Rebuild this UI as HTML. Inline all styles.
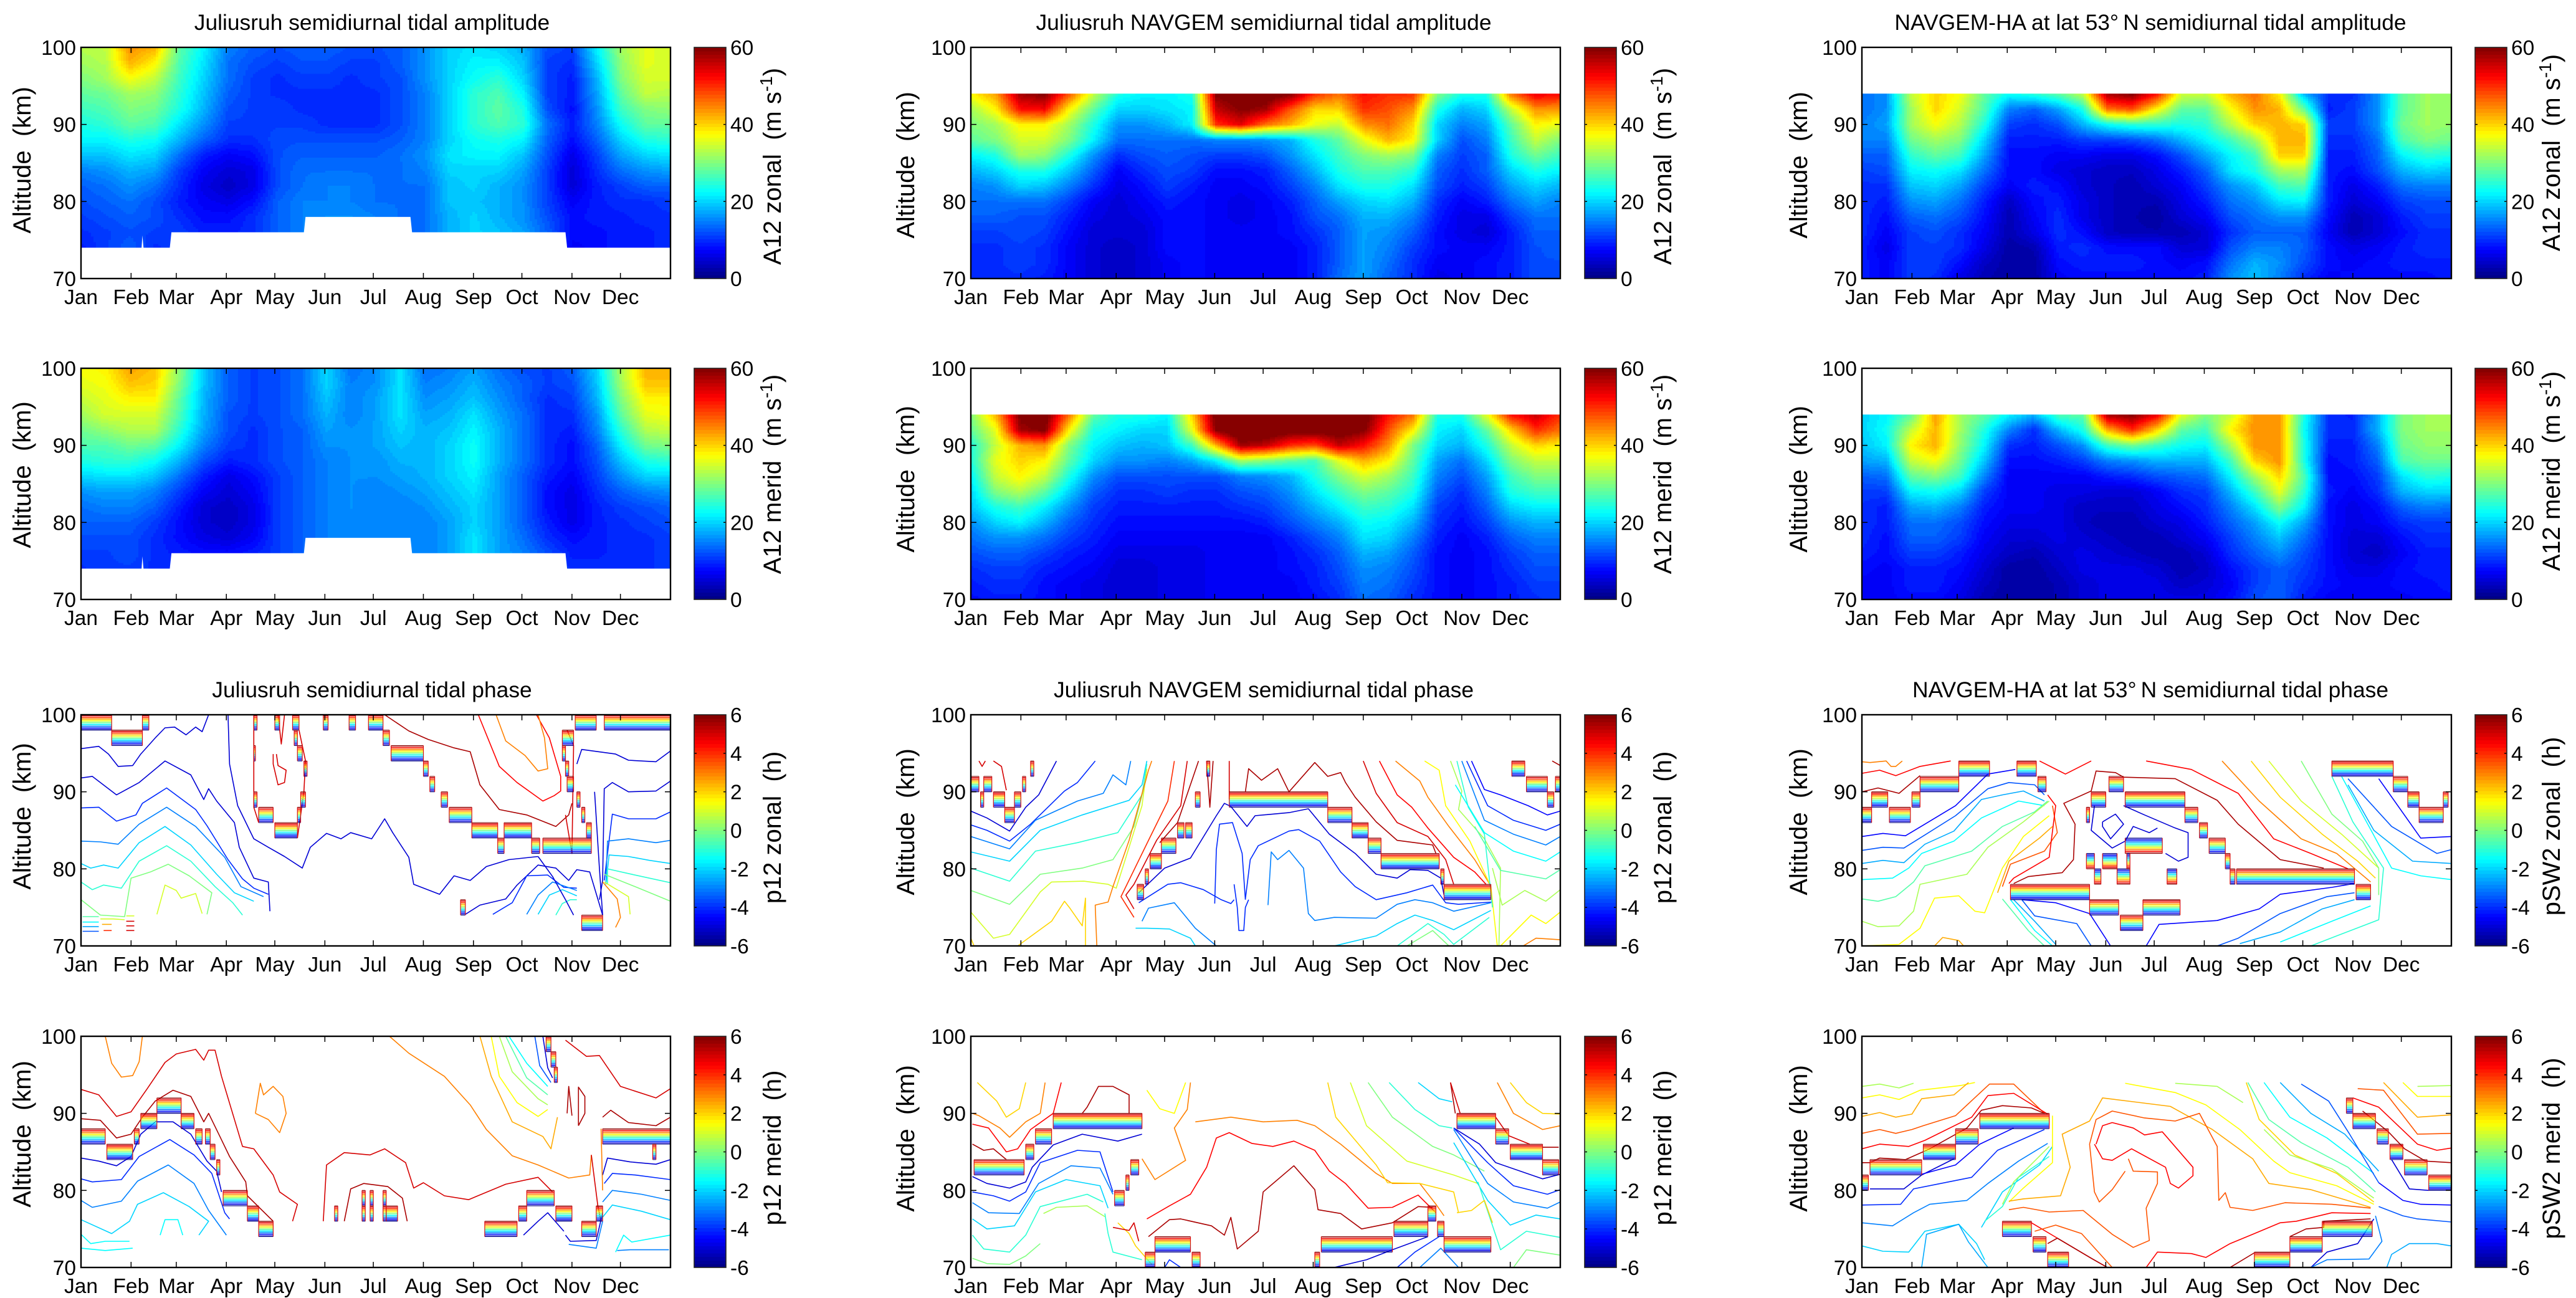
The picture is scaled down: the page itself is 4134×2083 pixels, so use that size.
<!DOCTYPE html>
<html lang="en">
<head>
<meta charset="utf-8">
<title>Semidiurnal tidal amplitude and phase at Juliusruh</title>
<style>
html,body{margin:0;padding:0;background:#fff;}
svg{display:block;}
text{font-family:"Liberation Sans",Arial,sans-serif;fill:#000;white-space:pre;}
</style>
</head>
<body>
<svg id="figure" xmlns="http://www.w3.org/2000/svg" width="4134" height="2083" viewBox="0 0 4134 2083"></svg>
<script>
/* ---------- shared axis data ---------- */
const monthLabels = ['Jan','Feb','Mar','Apr','May','Jun','Jul','Aug','Sep','Oct','Nov','Dec'];
const monthStartDays = [0,31,59,90,120,151,181,212,243,273,304,334];
const altitudeTicks = [70,80,90,100];
const amplitudeTicks = [0,20,40,60];
const phaseTicks = [-6,-4,-2,0,2,4,6];
const contourLevels = [6,5.25,4.5,3.75,3,2.25,1.5,0.75,0,-0.75,-1.5,-2.25,-3,-3.75,-4.5,-5.25,-6];

/* radar altitude coverage (day, km) */
const radarFloorDays = [0,37.5,38,38.7,55,56,138,139,204,205,300,301,365];
const radarFloorAlts = [74,74,75.6,74,74,76,76,78,78,76,76,74,74];

/* ---------- amplitude grids: rows every 2 km from the top, columns every half month ---------- */
const ampJuliusZonal = [
[33,34,44,42,28,22,15,13,12,13,13,12,12,13,16,20,21,20,18,12,11,22,32,36,35],
[32,33,42,38,27,21,14,12,11,12,12,11,11,13,16,20,22,22,19,11,10,20,31,36,35],
[30,32,37,34,26,20,14,11,10,11,11,10,11,12,16,20,23,25,20,11,9,18,30,35,35],
[28,29,32,31,25,19,13,11,10,10,10,10,10,12,15,20,25,27,22,11,9,17,28,34,33],
[26,27,30,29,24,18,12,11,11,10,10,10,10,12,15,20,25,28,24,12,8,16,26,30,31],
[24,25,28,27,21,16,11,11,11,11,10,10,10,12,15,20,25,27,25,14,9,15,23,28,28],
[22,22,24,23,18,13,10,10,12,12,12,12,12,13,15,20,23,24,22,13,8,13,20,24,25],
[19,19,21,20,14,9,7,8,12,13,13,13,13,14,16,21,22,22,19,12,6,11,17,20,21],
[15,16,18,17,11,7,5,6,12,14,14,14,14,14,15,20,20,20,17,11,5,10,14,16,17],
[13,14,16,14,10,6,4,6,12,14,15,15,14,14,14,19,20,18,16,11,5,9,11,13,13],
[12,13,14,12,9,7,6,8,13,15,15,15,14,14,14,19,19,18,16,11,7,9,10,10,11],
[11,12,13,12,10,8,8,10,13,15,16,16,15,14,14,18,20,18,16,12,8,9,9,10,10],
[10,11,12,11,11,9,9,10,13,15,16,16,15,14,14,18,20,19,17,13,8,8,9,9,10],
[9,11,13,10,11,10,10,10,13,15,16,16,15,14,14,18,20,19,17,13,7,8,9,9,10]];
const ampJuliusMerid = [
[37,38,43,41,31,19,13,11,12,14,20,14,16,21,14,15,17,14,12,11,13,20,33,42,42],
[36,37,41,40,30,19,13,11,12,14,20,15,16,21,15,16,18,15,13,11,12,19,32,41,41],
[34,36,38,38,28,18,13,11,12,14,19,15,17,21,16,17,19,16,13,10,11,18,30,38,38],
[32,35,35,35,27,18,12,11,12,14,18,15,17,21,17,18,21,17,14,10,10,16,28,36,37],
[29,31,33,33,25,17,12,10,12,13,17,16,17,20,18,19,22,18,14,10,9,15,25,33,34],
[27,27,29,28,22,15,11,10,12,13,16,16,17,19,18,20,23,18,14,10,8,13,22,29,30],
[24,25,25,23,18,12,9,10,12,13,15,16,16,18,18,20,23,18,14,10,8,12,19,24,25],
[20,21,21,19,14,9,6,8,11,13,15,16,16,17,18,20,22,17,13,9,7,11,16,20,20],
[16,17,17,15,11,7,5,7,11,13,15,16,15,16,17,19,21,17,13,8,6,10,13,15,16],
[14,15,15,13,9,5,4,6,11,13,15,16,15,15,16,18,20,17,13,8,6,9,11,12,13],
[13,13,13,11,8,5,4,6,11,13,15,15,15,15,15,17,20,17,13,9,6,9,10,11,12],
[12,12,12,10,8,6,5,7,11,13,15,15,15,15,15,17,21,17,14,10,8,9,10,10,11],
[11,11,12,10,9,8,8,9,11,13,15,15,15,15,15,17,21,17,15,12,9,9,10,10,11],
[10,11,11,10,9,9,9,10,11,13,15,15,15,15,15,17,20,17,15,13,10,10,10,10,11]];
const ampNavgemZonal = [
[38,43,58,60,48,34,24,22,22,24,60,62,62,60,50,46,52,50,50,30,24,24,46,54,52],
[32,38,52,53,38,28,20,20,21,22,56,60,58,48,40,40,50,48,44,24,18,20,34,44,44],
[30,32,38,38,32,24,16,16,18,22,50,54,46,42,36,34,44,46,40,20,15,17,28,38,36],
[28,30,35,35,30,22,14,14,14,14,15,15,16,18,24,28,36,42,38,20,12,15,26,34,30],
[22,24,32,31,24,16,10,12,13,12,11,11,12,16,21,26,30,32,30,15,11,13,24,29,26],
[18,20,24,24,19,13,7,10,12,11,8,8,9,13,18,24,27,27,25,13,10,13,20,24,22],
[15,16,20,19,15,10,6,8,11,9,7,7,8,11,15,21,24,24,21,12,9,11,17,20,18],
[14,14,14,14,11,7,5,7,9,8,7,6,7,9,13,17,20,21,18,10,7,9,14,17,15],
[13,13,12,12,9,6,5,6,8,8,7,6,7,8,12,14,18,18,15,9,6,6,11,14,14],
[11,11,12,11,8,5,5,5,8,8,7,7,7,8,10,13,17,16,13,8,6,5,9,13,13],
[10,10,11,10,7,5,4,5,8,8,7,7,7,7,9,13,17,15,11,8,7,7,9,12,13],
[10,10,11,10,7,5,4,5,7,8,7,7,7,7,9,13,17,14,10,7,7,8,9,12,12],
[10,10,10,9,7,5,4,5,7,8,7,7,7,7,9,14,17,13,10,6,7,8,9,12,12]];
const ampNavgemMerid = [
[30,42,60,62,46,28,24,24,22,40,62,64,64,64,64,62,62,52,46,24,24,36,52,56,50],
[28,36,58,60,38,24,22,20,20,36,60,64,64,62,62,62,60,48,38,22,20,28,40,50,46],
[24,34,42,44,30,22,19,18,19,26,42,58,56,50,48,56,52,44,30,20,18,24,34,40,38],
[24,36,40,38,28,20,16,16,15,17,22,32,30,28,26,36,42,38,28,17,14,20,30,34,34],
[22,34,38,34,24,16,12,12,12,12,12,15,16,18,24,30,35,32,26,15,12,17,26,30,30],
[20,30,33,28,20,13,10,10,11,10,10,12,13,16,21,26,30,28,24,13,10,15,24,26,26],
[19,24,26,22,16,11,9,9,9,9,9,10,11,14,18,22,26,25,21,11,9,13,20,22,22],
[16,20,22,18,13,10,8,8,8,8,8,8,9,12,15,18,23,22,18,10,8,11,16,18,18],
[14,16,16,14,11,9,7,7,7,7,7,7,7,9,12,15,21,20,15,9,7,9,13,15,15],
[12,13,13,11,9,8,6,6,6,6,7,7,7,8,10,13,18,17,13,8,7,8,11,13,13],
[10,11,11,9,8,7,5,5,6,6,7,7,7,8,9,12,16,15,12,8,7,8,10,12,12],
[9,10,10,8,7,6,5,5,6,6,7,7,7,7,9,11,15,14,11,8,7,8,9,11,11],
[8,9,9,8,7,6,5,5,6,6,7,7,7,7,8,10,14,13,10,8,7,8,9,10,11]];
const ampHarmonicZonal = [
[14,16,34,40,37,28,23,25,28,34,58,60,52,35,34,42,46,38,18,10,10,16,28,32,31],
[14,16,32,40,35,27,15,13,17,24,46,48,38,28,28,37,44,42,28,9,11,16,28,32,31],
[15,17,32,37,33,24,11,10,12,18,23,25,25,24,25,33,40,42,40,11,11,16,29,32,31],
[15,15,29,32,30,20,9,9,9,11,11,12,14,18,22,26,32,42,42,10,10,14,27,30,29],
[13,13,25,28,26,17,8,8,7,7,6,6,8,12,17,22,26,40,40,9,9,13,22,25,24],
[11,12,22,23,21,14,8,8,6,5,4,4,6,9,13,21,24,32,33,9,8,12,18,20,19],
[10,10,19,20,17,11,7,9,8,5,4,3,5,7,11,16,19,26,27,9,6,9,14,15,15],
[10,9,16,17,14,9,4,8,9,6,4,3,3,6,9,14,16,21,22,9,5,7,11,12,12],
[10,8,13,14,12,8,3,7,10,6,4,3,2,5,7,12,14,16,16,8,3,5,9,11,11],
[10,7,11,12,10,7,3,6,10,8,4,3,3,3,5,10,13,13,13,7,3,5,8,10,10],
[9,6,11,11,10,6,2,3,9,10,8,8,8,5,5,12,15,15,13,8,6,7,9,10,10],
[9,7,11,11,8,4,2,2,8,9,9,9,8,7,8,14,18,16,12,8,7,8,9,9,9],
[9,7,11,10,6,3,2,2,7,8,8,8,8,8,9,16,19,15,10,7,8,8,8,8,9]];
const ampHarmonicMerid = [
[20,22,28,43,32,28,22,18,27,28,58,60,54,36,30,34,44,44,24,10,9,18,30,32,32],
[20,23,34,42,32,24,15,10,18,24,42,50,40,28,26,38,44,44,23,10,10,18,30,32,32],
[19,22,38,42,31,22,10,9,12,16,26,29,26,23,22,32,44,44,24,9,9,15,29,31,31],
[17,18,34,37,29,19,8,8,9,11,15,16,18,18,18,26,40,44,24,8,9,13,27,29,29],
[13,14,28,30,26,15,7,7,7,7,9,10,12,13,14,22,32,40,27,8,8,11,21,25,24],
[11,11,22,23,20,11,7,7,6,6,5,5,7,10,11,18,26,36,25,9,7,10,18,20,20],
[10,9,17,18,15,9,7,7,6,4,4,4,6,8,10,15,21,30,22,8,6,8,13,15,14],
[10,9,14,14,12,8,6,6,6,4,3,3,5,6,9,13,17,23,17,8,6,7,10,11,11],
[10,8,13,13,11,7,5,5,6,5,4,3,3,5,7,11,15,19,14,8,5,5,8,10,10],
[9,8,11,11,9,6,4,3,5,6,5,4,3,3,5,10,13,16,12,8,5,4,7,9,9],
[8,7,9,9,8,5,2,2,4,6,6,6,5,3,4,8,11,13,11,8,6,6,8,9,9],
[7,7,9,9,7,4,2,2,3,5,6,6,6,4,5,7,11,13,10,8,7,7,8,8,9],
[7,7,8,8,6,3,2,2,3,5,6,6,6,6,6,8,12,13,9,7,7,7,7,8,8]];

/* ---------- phase wrap bands: start day, end day, top altitude (km), colour direction ---------- */
const wrapJuliusZonal = [[0,19,100,1],[19,38,98,1],[38,42,100,1],[107,109,100,1],[120,123,100,1],[131,135,100,1],[150,153,100,1],[166,170,100,1],[178,187,100,1],[306,319,100,1],[324,365,100,1],[187,191,98,1],[192,212,96,1],[212,215,94,1],[216,219,92,1],[223,227,90,1],[228,242,88,1],[242,258,86,1],[258,262,84,1],[262,279,86,1],[279,284,84,1],[286,316,84,1],[298,305,98,1],[298,300,96,1],[300,302,94,1],[301,305,92,1],[307,309,90,1],[310,312,88,1],[313,316,86,1],[107,108,96,1],[107,109,90,1],[110,119,88,1],[120,134,86,1],[134,136,88,1],[136,139,90,1],[138,140,94,1],[134,137,96,1],[132,134,98,1],[310,323,74,1],[235,238,76,1]];
const wrapNavgemZonal = [[0,5,92,1],[8,13,92,1],[6,8,90,1],[14,21,90,1],[21,27,88,1],[27,31,90,1],[32,34,92,1],[37,39,94,1],[103,107,78,1],[108,110,80,1],[111,118,82,1],[118,127,84,1],[128,132,86,1],[133,137,86,1],[139,142,90,1],[146,148,94,1],[160,221,90,1],[221,236,88,1],[236,246,86,1],[246,254,84,1],[254,290,82,1],[291,293,80,1],[293,322,78,1],[335,343,94,1],[344,357,92,1],[357,361,90,1],[362,365,92,1]];
const wrapHarmonicZonal = [[0,6,88,1],[6,16,90,1],[17,30,88,1],[31,36,90,1],[36,60,92,1],[60,79,94,1],[96,108,94,1],[109,114,92,1],[92,141,78,1],[141,159,76,1],[160,174,74,1],[174,197,76,1],[163,186,84,-1],[139,144,82,-1],[149,158,82,-1],[144,148,80,-1],[158,166,80,-1],[189,195,80,-1],[164,166,82,-1],[142,151,90,1],[163,200,90,1],[153,162,92,1],[139,141,88,1],[200,208,88,1],[209,214,86,1],[215,225,84,1],[225,228,82,1],[228,231,80,1],[232,305,80,1],[306,315,78,1],[291,329,94,1],[329,338,92,1],[338,345,90,1],[345,360,88,1],[360,363,90,1]];
const wrapJuliusMerid = [[0,15,88,1],[16,32,86,1],[33,36,88,1],[37,47,90,1],[47,62,92,1],[62,70,90,1],[71,75,88,1],[77,80,88,1],[80,83,86,1],[84,86,84,1],[88,103,80,1],[103,110,78,1],[110,119,76,1],[157,159,78,1],[174,176,80,1],[174,176,78,1],[179,181,80,1],[179,181,78,1],[187,189,80,1],[187,189,78,1],[189,196,78,1],[250,270,76,1],[271,276,78,1],[276,293,80,1],[294,304,78,1],[310,319,76,1],[319,323,78,1],[323,365,88,1],[354,356,86,1],[288,291,100,1],[291,294,98,1],[293,295,96,1]];
const wrapNavgemMerid = [[2,33,84,1],[34,39,86,1],[40,50,88,1],[51,106,90,1],[99,104,84,1],[96,98,82,1],[89,95,80,1],[114,136,74,1],[137,142,72,1],[108,114,72,1],[213,216,72,1],[217,261,74,1],[262,283,76,1],[283,288,78,1],[289,293,76,1],[293,322,74,1],[301,325,90,1],[325,333,88,1],[334,354,86,1],[354,364,84,1]];
const wrapHarmonicMerid = [[0,4,82,1],[5,37,84,1],[38,58,86,1],[58,72,88,1],[73,116,90,1],[87,105,76,1],[106,114,74,1],[115,128,72,1],[243,265,72,1],[265,285,74,1],[285,316,76,1],[300,304,92,1],[304,318,90,1],[319,326,88,1],[327,335,86,1],[336,350,84,1],[351,365,82,1]];

/* ---------- phase contours: phase level (h), then day, altitude pairs ---------- */
const contoursJuliusZonal = [
[-5,0,95.6,11,95.9,17,94.9,23,93.3,32,93.4,37,94.9,46,97,52,98.3,58,98.4,65,97.4,71,98.4,75,97.8,79,100],
[-5,91,100,92,93.6,97,88.2,107,83.9,116,82.8,126,81.6,137,80.1,142,82.8,152,84.6,161,83.9,167,84.7,180,83.9,188,86.5,193,84.7,203,81.5,206,78,222,76.7,231,79.1,241,78.5,251,80.3,265,81.2,283,81.6],
[-5,0,91.8,7,92,22,89.6,36,91.2,52,94,68,92.2,76,89,79,90.4,84,88.8,95,86,98,82.8,107,78.8,116,78.3,117,74.5],
[-4,0,87.9,11,88,22,86.2,34,87,38,88.5,53,90.5,71,87.7,78,85.6,91,81.2,100,78.7,107,77.5,116,76.7],
[-3,0,83.6,12,83.5,23,83.2,36,85.8,53,88,71,85.5,89,81.5,99,77.7,113,76.4],
[-2,0,80.7,6,80.1,14,80.5,23,80.1,36,83.4,52,85.5,68,83.1,84,79.3,95,76.9,107,75.8],
[-1,0,78.3,7,77.3,14,77.9,25,77.5,36,81,53,83,68,81,83,77.7,94,75.6,100,74],
[0,0,76,12,74,27,73.8,31,78.8,43,79.6,54,80.6,67,79.1,81,76.9,78,74.1],
[1,47,74.1,52,77.9,59,77.2,62,76.2,71,76.8,75,74.2],
[-0.5,1,73.8,11,73.8],
[-1.5,1,73.1,11,73.1],
[-2.5,1,72.5,11,72.5],
[-3.5,1,71.9,11,71.9],
[1,12,73.5,20,73.5,27,73.4],
[2.5,13,72.8,19,72.8],
[4,14,72,19,72],
[1,28,73.9,33,73.9],
[5,28,73.2,33,73.2],
[5,28,72.6,33,72.6],
[5,28,72,33,72],
[5.5,188,100,203,97.9,215,96.8,231,95.7,241,95.2,247,90.9,259,87.7,276,87,294,85.5,302,87,304,88.5],
[4.5,246,100,259,93.3,270,91.2,286,88.8,293,89.5,297,90.1,297,92,290,97,282,100],
[3,257,100,263,96.6,275,94.7,283,92.7,289,93,287,97,283,100],
[-5,307,93.6,310,95.5,331,94.9,339,94.1,356,93.9,365,95.3],
[-5,321,76,323,78.5,324,90.4,329,91.2,339,90,356,90.1,365,91.4],
[-4,324,78.5,329,87.1,339,86.5,356,86.5,365,87.4],
[-3,325,78,326,83.6,339,83.9,356,83.4,365,83.7],
[-2,325,78,327,81.8,339,81.6,352,81.1,365,80.7],
[-1,326,78,326,80,343,79.2,365,78.2],
[0,324,79.3,343,77.7,365,75.8],
[1,324,78.3,339,76.4,340,74.1],
[3,323,78.3,332,76.1,334,73.7,331,72.4],
[-5,238,74.1,247,75.3,263,76.1,270,77.9,283,80.5,294,80.1,302,78.5,307,79.9,315,79.6,323,74],
[-4,255,74.1,267,75.6,276,79.1,289,79.2,299,77.6,307,77.5],
[-3,276,74.1,283,76.6,292,78.3,307,77.2],
[-2,283,74.1,290,76.6,298,77.3,307,76.5],
[-1,294,74,298,75.5,303,76,307,76],
[5,119,94.9,119,93.6,122,90.9,126,91.2,127,92.8,122,93.4,121,94.9],
[5,122,100,124,96.2,126,100],
[5,134,84,138,90,139,94,135,98],
[5,107,100,107,88,110,86],
[5,300,87,304,82,305,96,301,98],
[-5,283,81.6,292,79,300,76,305,74],
[-5,318,90,321,80,323,74]];
const contoursNavgemZonal = [
[5,5,94,7,93.3,9,94],
[5,14,94,19,93.3,22,90.2],
[-5,0,87.5,10,86.6,24,84.9,34,88,42,89.6,53,94],
[-4,0,85.7,10,85,24,83.6,37,85.8,58,90.1,66,91.2,77,94],
[-3,0,84.2,24,82.6,40,86.3,66,88.8,82,89.8,88,92.2,96,90.9,99,94],
[-2,0,82.2,24,81,43,85,69,87,98,88.9,106,90.9,109,94],
[-1,0,80.1,24,78.4,40,82.3,66,83.4,91,84.7,106,89.6,109,93.6],
[0,0,77.2,24,75.4,43,79.3,69,80.1,88,81.2,101,85.5,109,92],
[1,0,74.4,14,71,24,71.5,43,77,50,78.3,70,78.4,85,78,90,77.5,98,82.8,106,88.2,109,93],
[2,0,71,2,70,29,70,50,73.2,58,75.8,61,75,69,72.6,71,76.2,71,70],
[3,78,70,77,75.3,85,75.7,88,77.7,98,83.7,110,92.8,112,94],
[4,101,73.7,93,76.4,110,83.7,122,88.8,126,94],
[5,101,74.8,96,76.6,101,78,115,83.7,130,88.2,134,94],
[5.5,117,83.4,128,86,141,94],
[5.5,146,94,148,88,150,94],
[-5,104,76.9,120,80.1,136,81.4,152,86.9,157,88.5,161,88.1,171,85.5,176,86.9,197,87.3,209,87.8,222,84.5,238,82,251,79.3,264,78.8,272,79.9,283,79.8,291,78.8,293,76.6],
[-4,104,75.6,122,78,130,78.2,144,77.3,155,76,161,75.5,163,76],
[-4,170,76.1,173,81.2,178,83,197,84.9,203,85.1,216,83.6,229,79.6,238,77.7,251,76,270,76.9,286,77.9,294,75.6,302,75.4,323,75.7],
[-3,106,73.2,110,74.9,126,75.6,139,72.3,152,70],
[-3,184,75.3,186,82.2,190,81.2,197,82.4,206,80.1,209,74.2,213,73.3,225,73.7,251,73.6,264,75.4,275,76,286,75.6,299,74.5,322,75.6],
[-2,102,72.3,109,72.3,123,72.2,136,71,139,70],
[-2,225,70,251,71.3,264,72.9,275,74,286,73.3,299,72.1,322,74.6],
[-1,264,70,283,72.9,293,71.5,299,70.2,321,73.7],
[0,270,70,286,72,296,70],
[5.5,170,90,172,93,180,91.5,190,93,197,90,213,93.8,221,92,229,92.5,232,91.2,238,89.3,251,86.1,264,83.7,286,83.1,288,82],
[5,243,94,251,89.8,264,86,283,84.2,294,81.2,299,78],
[4.5,253,94,264,89.6,273,88,283,85.3,299,81.5,312,79.6,319,78],
[3,263,94,278,91.4,283,89.3,296,85.5,312,81.2,321,78.1],
[1.5,281,94,290,92.8,294,88.2,309,83.6,322,77.7,326,70],
[0.5,297,94,304,90.1,302,87.7,318,83.9,328,80.1,327,70],
[-1,301,94,308,88,318,84.5,323,75],
[-4.5,310,94,318,90.3,328,89.6,345,88.2,357,87,365,87.5],
[-4,307,94,320,88.2,336,86.3,356,85,365,85.8],
[-3,304,94,318,86.3,336,84.5,356,83.1,365,84.2],
[-1.5,300,90.9,318,84.7,336,82.3,356,81,365,82.2],
[-0.5,312,85.5,328,79.8,356,78.7,365,79.9],
[0.5,323,80.1,329,75.3,343,77.2,356,75.8,365,77.3],
[1.5,328,70,347,74,356,72.9,365,74.4],
[3,342,70,350,71,365,70.8],
[5.5,360,94,365,93.4],
[-4,151,75.5,152,82.5,154,85.8,162,86,168,82,170,76],
[-4,163,78,165,75,166,72,169,72,170,75,172,76],
[5,160,94,160,89]];
const contoursHarmonicZonal = [
[3,0,93.9,5,93.8,15,94,18,93.3,21,93.3,25,94],
[4.5,0,92.4,11,92.8,21,92.1,36,93.3,55,94],
[5.5,0,90,10,90.5,23,89.8,36,92.1],
[-4.5,0,84.2,13,84.6,27,84.3,39,85.8,58,88.2,78,92.3,95,92.9],
[-3.5,0,82.4,13,82.8,26,82.7,39,84.4,58,86.9,78,90.4,91,91.2,107,90.9,113,89.6],
[-2.5,0,80.7,13,81.1,26,80.8,39,83.2,57,84.9,74,89,87,89.6,100,90.1,113,88.8],
[-1.5,0,78.6,19,78.8,29,80.1,37,82,57,83.6,74,86.6,97,88.8,113,88.2],
[-0.5,0,76.1,10,75.8,21,76.4,32,78.3,39,80.4,68,82.3,87,85.5,107,87.4,115,88.8],
[0.5,0,73.2,10,72.5,23,72.6,32,74.5,36,78,65,79.3,78,82.8,100,86.1,116,88.8],
[1.5,0,70,23,70.2,36,72.3,45,76.2,60,76.5,70,74.5,76,74.3,87,80.1,100,84.2,116,86.9],
[2.5,45,70,50,71.1,60,70.7,63,70],
[2.5,84,76.9,91,81,110,84,118,85.5],
[3.5,87,77.7,92,80.6,113,82.3,121,84.7,118,88.2],
[4.5,91,78.1,94,78.8,116,81.5,120,88.2,115,89.6],
[5.5,94,78.1,103,79,124,79.5,131,81.2,132,85.8,125,88.5,142,90.1,145,92.7,157,92.5,162,91.9,194,91.7,220,88.9,233,85.8,259,81.2,286,80.1],
[4.5,110,94,126,92.3,142,94],
[4.5,176,94,204,92.9,233,89.8,255,83.9,278,82,301,80],
[3,223,94,246,88.8,272,83.9,294,82,315,78.3],
[2,241,94,259,89.3,285,84.5,307,81,318,78.8],
[1,252,94,272,88.8,297,84.5,320,80.1],
[0,272,94,291,87.1,310,83.6,320,80.1,320,76.6],
[-1,291,92,304,86.1,323,80.1,320,73.4,294,71.3,278,70],
[-1.5,297,92,314,85.5,328,80.1,346,79.1,365,78.6],
[-2.5,301,90.9,317,85,341,81,365,80.7],
[-3.5,301,91.7,328,85.5,356,82,365,82.5],
[-4.5,320,91.7,346,84,365,84.2],
[-4.5,305,78.1,291,77.6,259,76.7,246,74.8,220,73.3,184,72.8,176,70],
[-3.5,305,76.9,288,76.4,259,74.2,233,71,220,70],
[-2.5,305,76,285,74.8,259,71.8,234,70.3],
[-1.5,315,75.2,291,73.2,259,70.5],
[-4.5,99,76,120,75.6,141,74.2,154,70],
[-3.5,99,76,107,73.9,133,72.9,142,70],
[-2.5,94,76,107,73.2,120,70.2],
[-1.5,92,76,107,72,118,70],
[-0.5,87,76.1,103,72,113,70],
[-5,149,86.1,157,87.1,162,85.8,154,83.9,149,85.5,149,86.1],
[-5,144,88.2,142,85,155,82.7,163,83.6,168,85.5,178,84.7,183,85.3],
[-5,162,88.2,175,87,194,85.3,202,84.7,202,81.5,196,81,188,82]];
const contoursJuliusMerid = [
[3,15,100,19,96.5,25,94.7,32,94.9,36,96.7,38,100],
[5,0,93.1,11,92.4,22,89.6,31,90.2,41,93.2,52,96.6,59,97.7,71,98.3,76,96.9,79,98.2,83,98.2,87,94.8,100,85.7,107,85.4,119,82,123,79.8,134,78.2,131,76],
[5.5,0,89.3,12,89.1,22,86.8,31,87.3,38,89.5,46,91.6,57,93,68,92.2,76,88.9,79,90,86,87,92,84.4,102,81.1,103,79.3,119,76],
[-5,0,84.2,11,83.8,22,83.2,31,84.4,37,87.3,46,88.9,57,88.9,68,87.3,78,83.8,84,82.5,87,79.8],
[-4,0,81.5,7,81.1,25,81.4,36,84.4,55,86.6,70,84.6,81,82.2,89,77.1,92,76.3],
[-3,0,78.7,7,77.8,25,78.6,35,81.2,54,83.3,70,80.9,79,77.4,90,74.2],
[-2,0,76.2,19,74.4,30,76,35,78.2,51,79.7,67,77.9,79,76,73,74.2],
[-1.5,0,74.3,6,73.1,15,73.4,30,73.4],
[-1.5,49,74.2,52,76.2,60,76.2,63,74.2],
[-1.5,0,72.5,15,72.2,32,72.5],
[3,108,90,111,93.9,113,92.4,119,93.5,125,92.2,127,90,123,87.5,116,89.2,108,90],
[3,191,100,203,97.8,225,94.8,241,91.1,251,87.9,267,84.5,283,83.3,302,81.6,315,82,316,84.6],
[5,150,76,152,83.3,163,84.9,179,84.6,188,85.4,201,83.6,206,80.3,212,81,225,79.3,240,78.8,263,80.8,283,81.7,292,79.8],
[5.5,163,76,167,80.2,175,80.9,190,80.5,199,79,202,76],
[2.5,247,100,254,94.8,267,88.9,286,87,291,85.4,295,89.5],
[1.5,254,100,259,94.8,270,91.4,283,89.6,289,90.5],
[0.5,259,100,267,95.4,283,91.9,289,91.1],
[-0.5,263,100,276,94.6,289,92.4],
[-1.5,265,100,276,96.5,289,93.5],
[-3.5,281,100,284,96.2,291,94],
[-5,286,100,289,95.9,292,94.6],
[5,300,99.5,313,97.4,321,97.5,334,93.5,356,92,365,93.2],
[5.5,323,89.5,328,90.4,339,88.8,356,88.4,365,89.5],
[-5,323,82,326,84.2,340,83.7,356,83.4,365,84],
[-4,324,80.9,329,82.2,343,82,365,81.4],
[-3,323,78.5,329,80,347,79.5,365,78.7],
[-2,321,76,329,78.1,347,77.3,365,76.2],
[-1.5,331,72,336,74.2,341,73.3,365,74.2],
[-3,332,72.2,340,72.3,364,72.3],
[5.5,301,90,302,93.5,304,89.7],
[5.5,308,88.4,308,93.4,312,92.2,312,90,308,88.4],
[-5,300,74.2,303,73.4,319,73.5,323,77.1],
[-3,302,73,319,72.5,323,76],
[-5,274,74.2,283,76,289,77.1,299,74.7],
[5,316,84.6,320,78,322,76],
[3,323,80,322,88]];
const contoursNavgemMerid = [
[2,4,94,16,91.6,22,89.5,30,90.6,34,94],
[3,1,90,5,89.7,18,88.1,24,86.9,34,88.9,43,90,46,94],
[4.5,1,88.6,11,88.1,22,85,29,85.4,37,87.9,51,90,56,94],
[5.5,1,86,8,85.2,14,85.4,22,84],
[-5,1,81.8,10,80.9,24,80.3,34,81.1,38,83,51,85.9,69,87.3,91,86.4,106,87.3],
[-4,1,79.8,14,79.3,24,78.6,34,79.8,43,83.6,66,85.2,80,85,88,79.8],
[-3,1,78.4,11,77.1,30,77,42,80.9,62,83.2,80,82.9,88,79.5],
[-2,1,76.3,10,75,27,75.4,40,79.8,59,81.4,80,80.6,85,77.7],
[-1,1,74.2,8,72.4,24,72,34,74.2,43,77.9,72,79.5,82,78.5],
[0,1,71.2,10,70.5,24,70.4,34,71.5,43,73.1],
[0.5,45,77,53,77.8,72,78,83,76.6],
[3,139,88.9,161,89.5,181,88.9,202,89.1,213,88.4,229,86,251,82.2,261,80.9,278,80.9,288,78.2,293,76.7],
[3,136,94,134,90.5,126,88.1,133,83.9,114,81.4,106,84.1],
[4.5,109,76.3,123,78,136,79.5,146,83,152,86.8,160,87.5,174,86.1,187,85.7,200,86.4,213,85.2,222,82.5,232,80.9,246,77.7,261,77.8,277,79.4,288,77.1],
[5.5,110,74,123,76.2,130,76.3,149,75.4,157,74.2,161,76.5,165,72.4,178,74.7,181,79.8,200,83.2,213,80.1,215,77.5,229,77,242,75,261,75.8,277,77.9,286,77.8],
[5.5,69,90,72,90.8,79,93.5,88,93.5,98,92.4,98,90],
[1.5,109,93,117,90.6,126,90,133,94],
[2,221,94,226,89.5,251,83.3,258,81,278,80.9,299,79.8,302,77.1],
[1,235,94,245,88.4,270,83.8,299,82,314,80.9],
[0,246,94,261,89.5,286,85.7,299,84.6,318,82.5],
[-1,259,94,275,90.5,290,88.4,298,88.1],
[-2,277,94,290,91.9,298,91.5],
[3,326,94,336,90,354,87.9,365,88.4],
[2,334,94,344,91.4,354,90,365,89.9],
[5,325,89.5,333,87.1,346,86],
[5.5,354,85.6,364,85.6],
[-5,299,88.1,315,86,325,83.6,354,81.5,365,82.1],
[-4,299,88.1,320,83.6,336,80.6,357,79.5,365,80.1],
[-3,299,87.9,320,80.9,336,78.5,357,77.7,365,78.5],
[-2,299,86.2,320,78.7,334,75.5,350,76.8,365,76.3],
[-1,314,81.1,328,72.3,344,74.7,365,73.9],
[0,336,70,344,72.3,365,71.6],
[-5,225,70,245,71,261,72.3,283,74],
[-4,264,70,275,72,290,74],
[-3,278,70,291,72.5,302,70],
[5.5,297,94,300,90],
[5,297,94,303,90],
[2,301,77.1,310,77.4,318,78.7,323,75.8],
[-1,83,77,85,74.4,88,72,106,71],
[2,91,75.8,98,74.4,102,72.8,112,70.4],
[5,88,75.2,98,74.8,101,75.8,104,73.4],
[-4,120,70,123,71,130,70]];
const contoursHarmonicMerid = [
[0.5,0,93.5,11,93.8,23,93.3,32,93.9],
[0.5,344,93.5,365,93.6],
[1.5,0,92,11,92.4,23,91.8,36,93,61,93.6,70,94],
[1.5,335,94,344,92.2,365,92.2],
[2.5,0,89.6,11,90.1,21,89.5,31,89.9,37,91.9,57,92.4,66,94],
[2.5,323,94,344,89.5,365,89.8],
[3.5,0,87.4,11,87.9,21,87.4,31,87.9,38,88.4,58,89.7,79,93.8,94,93.8,113,90],
[3.5,307,93.2,323,93,344,87.3,365,87.4],
[4.5,0,85.4,11,86,29,85.7,39,86.5,68,89.5,78,92.3,94,92.6,115,89.9],
[4.5,304,92,320,90.8,344,86,356,85.2,365,85.5],
[5.5,0,83.6,5,83.6,11,84.2,27,84,42,85.4,65,88.1,74,90.4,87,91,105,90.7,113,90],
[5.5,310,90.3,326,87.6,336,85.4,349,83.8,365,83.6],
[-5,5,80.2,26,80.2,37,82,57,84.1],
[-4.5,37,82.1,58,83.3,73,86,94,88.1],
[-4,0,78.1,24,78.2,32,80.2,68,81.7,84,85.2,113,87.9],
[-3,0,75.8,19,75.4,32,77.1,42,78.2,65,78.7,78,80.9,97,83.8,115,86.1],
[-2,0,72.8,13,72.1,29,72,39,74.7,60,75.6,71,73.1,76,71],
[-2,74,75.2,87,79.8,110,83.3,118,85.7],
[-1,76,76,87,77.9,97,81.7,116,84.4],
[0.5,87,78.2,94,81.1,116,85.7],
[1.5,91,78.5,100,80.3,118,83.6,118,89.7],
[2.5,91,78.6,100,78.9,123,79.3,129,83,124,87.3,141,89,149,92,191,90.9,217,87.9,242,84.1,252,80.9,278,80.1,315,77.8],
[3.5,91,77.5,100,77.8,116,77.2,137,77.4,155,74.3,168,72.6,178,73.5,176,77.7,183,80.9,183,82.4,168,82.5,165,84.1],
[3.5,163,82.5,155,80.1,147,78.5,144,79.8,141,86,145,89.2,155,90.3,175,89.4,194,89,209,90,220,85.7,221,78.7,225,79.7,228,77.8,242,77.4,262,78.4,291,78.2,315,77.7],
[4.5,145,86,149,88.4,155,88.8,168,88.1,175,87.2,186,87.6,205,83,205,81.9,196,80.3,191,80.9,188,83,167,85.4,155,83.9,149,84.1,144,86],
[4.5,105,75.8,142,71.2,152,70],
[4.5,176,70,183,72,204,71.8,213,71.3,228,73.1,242,74.3,259,75.8,269,76,291,77.1,315,77],
[3.5,107,74.7,120,75.5,136,74.4,155,70],
[5.5,265,74,275,75,286,75.2,286,76,315,76.3],
[5.5,115,73.1,121,73.8,142,71.2,152,70],
[5.5,228,70,243,71.9],
[2,238,94,246,89.2,268,84.6,294,82.2,317,78.5],
[0.5,194,93.9,220,93.5,236,91.4],
[0.5,249,87.9,265,84.6,291,82.8,317,79],
[-0.5,239,94,252,89.2,272,86.2,301,83,318,79.8],
[-1.5,249,94,265,89.5,288,86.8,317,82.2],
[-2.5,259,94,278,90,299,87.3,320,82.5],
[-3.5,272,93.8,289,91.6,302,87.3,320,81],
[1.5,163,93.9,194,92.7,213,91.1,234,87.9,255,83.8,265,82.3,294,80.6,317,78.2],
[-5,278,70,288,72,307,73.1,317,76.3],
[-3,318,76.7,322,73.4,314,71.1,288,71,278,70],
[-5,328,84,339,80.2,351,80],
[-4.5,320,81,335,78.7,346,78.2,365,78.1],
[-3.5,320,77.9,335,76.7,344,76.3,365,75.9],
[-2.5,325,70,328,71.7,339,73.1,356,73.1,365,72.8],
[-2.5,37,70,40,74.3,60,75.6,66,73.3,78,70]];

/* ---------- layout ---------- */
const columnLefts = [130,1558,2988];
const colorbarLefts = [1114,2543,3972];
const rowTops = [76,591,1147,1663];
const plotWidth = 946;
const plotHeight = 371;
const colorbarWidth = 51;

const svgNS = 'http://www.w3.org/2000/svg';
const figure = document.getElementById('figure');

function jetColor(t){
  const c = x => Math.round(255*Math.max(0,Math.min(1,1.5-Math.abs(4*t-x))));
  return 'rgb('+c(3)+','+c(2)+','+c(1)+')';
}
function jetLevel(k){ return jetColor((k+0.5)/64); }
function phaseColor(h){ return jetColor((h+6)/12); }
function scaleX(col,day){ return columnLefts[col]+day/365*plotWidth; }
function scaleY(row,alt){ return rowTops[row]+(100-alt)/30*plotHeight; }

function addLine(parent,name,x1,y1,x2,y2,stroke,width){
  const el = document.createElementNS(svgNS,'line');
  
  
  el.setAttribute('x1',x1);el.setAttribute('y1',y1);el.setAttribute('x2',x2);el.setAttribute('y2',y2);
  el.setAttribute('stroke',stroke);el.setAttribute('stroke-width',width);
  parent.appendChild(el);
  return el;
}
function addText(parent,name,x,y,size,anchor,str){
  const el = document.createElementNS(svgNS,'text');
  
  
  el.setAttribute('x',x);el.setAttribute('y',y);el.setAttribute('font-size',size);el.setAttribute('text-anchor',anchor);
  el.textContent = str;
  parent.appendChild(el);
  return el;
}
function addGroup(parent,name){
  const el = document.createElementNS(svgNS,'g');
  
  
  parent.appendChild(el);
  return el;
}
let clipCount = 0;
function addClip(x,y,w,h){
  const id = 'clip'+(clipCount++);
  const cp = document.createElementNS(svgNS,'clipPath');
  cp.setAttribute('id',id);
  const r = document.createElementNS(svgNS,'rect');
  r.setAttribute('x',x);r.setAttribute('y',y);r.setAttribute('width',w);r.setAttribute('height',h);
  cp.appendChild(r);
  figure.appendChild(cp);
  return 'url(#'+id+')';
}

function drawHeatmap(parent,col,row,grid,topAlt){
  const x0 = columnLefts[col];
  const yTop = scaleY(row,topAlt);
  const yBot = scaleY(row,topAlt-2*(grid.length-1));
  const g = addGroup(parent,'amplitude-heatmap');
  g.setAttribute('clip-path',addClip(x0,yTop,plotWidth,yBot-yTop));
  g.setAttribute('shape-rendering','crispEdges');
  const stepX = 4, stepY = 3;
  const paths = {};
  const nCols = grid[0].length;
  for(let py=yTop;py<yBot;py+=stepY){
    const rowPos = Math.min(grid.length-1,((py+stepY/2)-yTop)/(yBot-yTop)*(grid.length-1));
    const r0 = Math.floor(rowPos), r1 = Math.min(grid.length-1,r0+1), fr = rowPos-r0;
    let runStart = 0, runLevel = -1;
    const flush = (end)=>{
      if(runLevel<0) return;
      const s = 'M'+(x0+runStart)+' '+py.toFixed(1)+'h'+(end-runStart)+'v'+(stepY+0.5)+'h'+(runStart-end)+'z';
      paths[runLevel] = (paths[runLevel]||'')+s;
    };
    for(let px=0;px<plotWidth;px+=stepX){
      const colPos = Math.min(nCols-1,(px+stepX/2)/plotWidth*(nCols-1));
      const c0 = Math.floor(colPos), c1 = Math.min(nCols-1,c0+1), fc = colPos-c0;
      const v = (grid[r0][c0]*(1-fc)+grid[r0][c1]*fc)*(1-fr)+(grid[r1][c0]*(1-fc)+grid[r1][c1]*fc)*fr;
      const level = Math.max(0,Math.min(63,Math.floor(v/60*64)));
      if(level!==runLevel){ flush(px); runStart=px; runLevel=level; }
    }
    flush(plotWidth);
  }
  Object.keys(paths).forEach(function(level){
    const p = document.createElementNS(svgNS,'path');
    
    
    p.setAttribute('d',paths[level]);
    p.setAttribute('fill',jetLevel(+level));
    g.appendChild(p);
  });
}

function drawRadarFloor(parent,col,row){
  let pts = scaleX(col,0)+','+scaleY(row,70);
  radarFloorDays.forEach(function(d,i){
    pts += ' '+scaleX(col,d).toFixed(1)+','+scaleY(row,radarFloorAlts[i]).toFixed(1);
  });
  pts += ' '+scaleX(col,365)+','+scaleY(row,70);
  const el = document.createElementNS(svgNS,'polygon');
  
  
  el.setAttribute('points',pts);
  el.setAttribute('fill','#fff');
  parent.appendChild(el);
}

function drawPhase(parent,col,row,bands,contours){
  const x0 = columnLefts[col], y0 = rowTops[row];
  const g = addGroup(parent,'phase-contours');
  g.setAttribute('clip-path',addClip(x0,y0,plotWidth,plotHeight));
  g.setAttribute('fill','none');
  contours.forEach(function(line){
    const level = line[0];
    let d = '';
    for(let i=1;i<line.length;i+=2){
      d += (i===1?'M':'L')+scaleX(col,line[i]).toFixed(1)+' '+scaleY(row,line[i+1]).toFixed(1);
    }
    const p = document.createElementNS(svgNS,'path');
    
    
    p.setAttribute('d',d);
    p.setAttribute('stroke',phaseColor(level));
    p.setAttribute('stroke-width','1.6');
    p.setAttribute('stroke-linejoin','round');
    g.appendChild(p);
  });
  bands.forEach(function(band){
    const bg = addGroup(g,'phase-wrap-band');
    const xa = scaleX(col,band[0]), xb = scaleX(col,band[1]);
    const top = band[2], dir = band[3];
    contourLevels.forEach(function(level,i){
      const frac = i/(contourLevels.length-1);
      const alt = dir>0 ? top-2*frac : top-2*(1-frac);
      addLine(bg,'band-contour',xa.toFixed(1),scaleY(row,alt).toFixed(1),xb.toFixed(1),scaleY(row,alt).toFixed(1),phaseColor(level),1.05);
    });
    addLine(bg,'band-edge-left',xa.toFixed(1),scaleY(row,top).toFixed(1),xa.toFixed(1),scaleY(row,top-2).toFixed(1),'#d81010',1.2);
    addLine(bg,'band-edge-right',xb.toFixed(1),scaleY(row,top).toFixed(1),xb.toFixed(1),scaleY(row,top-2).toFixed(1),'#d81010',1.2);
  });
}

function drawAxes(parent,col,row){
  const x0 = columnLefts[col], y0 = rowTops[row], x1 = x0+plotWidth, y1 = y0+plotHeight;
  const g = addGroup(parent,'axes');
  monthStartDays.forEach(function(d,i){
    const x = scaleX(col,d);
    if(i>0){
      addLine(g,'x-tick',x,y1,x,y1-9,'#000',1.5);
      addLine(g,'x-tick-top',x,y0,x,y0+9,'#000',1.5);
    }
    addText(g,'month-label-'+monthLabels[i].toLowerCase(),x,y1+41,33.5,'middle',monthLabels[i]);
  });
  altitudeTicks.forEach(function(a){
    const y = scaleY(row,a);
    if(a>70&&a<100){
      addLine(g,'y-tick',x0,y,x0+9,y,'#000',1.5);
      addLine(g,'y-tick-right',x1,y,x1-9,y,'#000',1.5);
    }
    addText(g,'altitude-tick-label',x0-8,y+12,33.5,'end',String(a));
  });
  const frame = document.createElementNS(svgNS,'rect');
  
  
  frame.setAttribute('x',x0);frame.setAttribute('y',y0);frame.setAttribute('width',plotWidth);frame.setAttribute('height',plotHeight);
  frame.setAttribute('fill','none');frame.setAttribute('stroke','#000');frame.setAttribute('stroke-width','2.4');
  g.appendChild(frame);
}

function drawColorbar(parent,col,row,vmin,vmax,ticks){
  const x0 = colorbarLefts[col], y0 = rowTops[row];
  const g = addGroup(parent,'colorbar');
  const sw = addGroup(g,'colorbar-swatches');
  sw.setAttribute('shape-rendering','crispEdges');
  for(let k=0;k<64;k++){
    const r = document.createElementNS(svgNS,'rect');
    
    
    const h = plotHeight/64;
    r.setAttribute('x',x0);
    r.setAttribute('y',(y0+plotHeight-(k+1)*h).toFixed(2));
    r.setAttribute('width',colorbarWidth);
    r.setAttribute('height',(h+0.6).toFixed(2));
    r.setAttribute('fill',jetLevel(k));
    sw.appendChild(r);
  }
  ticks.forEach(function(v){
    const y = y0+plotHeight-(v-vmin)/(vmax-vmin)*plotHeight;
    if(v>vmin&&v<vmax){
      addLine(g,'colorbar-tick',x0,y,x0+4,y,'#000',1.5);
      addLine(g,'colorbar-tick-right',x0+colorbarWidth,y,x0+colorbarWidth-4,y,'#000',1.5);
    }
    addText(g,'colorbar-tick-label',x0+colorbarWidth+7,y+12,33.5,'start',String(v));
  });
  const frame = document.createElementNS(svgNS,'rect');
  
  
  frame.setAttribute('x',x0);frame.setAttribute('y',y0);frame.setAttribute('width',colorbarWidth);frame.setAttribute('height',plotHeight);
  frame.setAttribute('fill','none');frame.setAttribute('stroke','#222');frame.setAttribute('stroke-width','1.6');
  g.appendChild(frame);
}

function rotatedLabel(parent,name,x,y,str,superscript,tail){
  const el = addText(parent,name,0,0,40,'middle',str);
  el.setAttribute('transform','translate('+x+' '+y+') rotate(-90)');
  if(superscript){
    const sup = document.createElementNS(svgNS,'tspan');
    sup.setAttribute('font-size','28');
    sup.setAttribute('dy','-14');
    sup.textContent = superscript;
    el.appendChild(sup);
    const rest = document.createElementNS(svgNS,'tspan');
    rest.setAttribute('dy','14');
    rest.textContent = tail;
    el.appendChild(rest);
  }
  return el;
}

/* ---------- figure assembly ---------- */
const panelTitles = [
 {col:0,row:0,text:'Juliusruh semidiurnal tidal amplitude',x:597,y:48},
 {col:1,row:0,text:'Juliusruh NAVGEM semidiurnal tidal amplitude',x:2028,y:48},
 {col:2,row:0,text:'NAVGEM-HA at lat 53\u00B0\u2009N semidiurnal tidal amplitude',x:3451,y:48},
 {col:0,row:2,text:'Juliusruh semidiurnal tidal phase',x:597,y:1119},
 {col:1,row:2,text:'Juliusruh NAVGEM semidiurnal tidal phase',x:2028,y:1119},
 {col:2,row:2,text:'NAVGEM-HA at lat 53\u00B0\u2009N semidiurnal tidal phase',x:3451,y:1119}
];
panelTitles.forEach(function(t){
  addText(figure,'panel-title',t.x,t.y,35.4,'middle',t.text);
});

const amplitudePanels = [
 {col:0,row:0,grid:ampJuliusZonal,top:100,floor:true,label:'A12 zonal',ly:267,ay:257},
 {col:0,row:1,grid:ampJuliusMerid,top:100,floor:true,label:'A12 merid',ly:761,ay:762},
 {col:1,row:0,grid:ampNavgemZonal,top:94,floor:false,label:'A12 zonal',ly:267,ay:265},
 {col:1,row:1,grid:ampNavgemMerid,top:94,floor:false,label:'A12 merid',ly:761,ay:769},
 {col:2,row:0,grid:ampHarmonicZonal,top:94,floor:false,label:'A12 zonal',ly:245,ay:265},
 {col:2,row:1,grid:ampHarmonicMerid,top:94,floor:false,label:'A12 merid',ly:756,ay:769}
];
const phasePanels = [
 {col:0,row:2,bands:wrapJuliusZonal,lines:contoursJuliusZonal,label:'p12 zonal  (h)',ly:1328,ay:1310},
 {col:0,row:3,bands:wrapJuliusMerid,lines:contoursJuliusMerid,label:'p12 merid  (h)',ly:1842,ay:1820},
 {col:1,row:2,bands:wrapNavgemZonal,lines:contoursNavgemZonal,label:'p12 zonal  (h)',ly:1328,ay:1319},
 {col:1,row:3,bands:wrapNavgemMerid,lines:contoursNavgemMerid,label:'p12 merid  (h)',ly:1842,ay:1827},
 {col:2,row:2,bands:wrapHarmonicZonal,lines:contoursHarmonicZonal,label:'pSW2 zonal  (h)',ly:1326,ay:1319},
 {col:2,row:3,bands:wrapHarmonicMerid,lines:contoursHarmonicMerid,label:'pSW2 merid  (h)',ly:1843,ay:1827}
];
const altitudeLabelX = [49,1467,2900];
const colorbarLabelX = [1253,2682,4108];

amplitudePanels.forEach(function(p){
  const g = addGroup(figure,'amplitude-panel');
  drawHeatmap(g,p.col,p.row,p.grid,p.top);
  if(p.floor) drawRadarFloor(g,p.col,p.row);
  drawAxes(g,p.col,p.row);
  drawColorbar(g,p.col,p.row,0,60,amplitudeTicks);
  rotatedLabel(g,'y-axis-title',altitudeLabelX[p.col],p.ay,'Altitude  (km)');
  rotatedLabel(g,'colorbar-title',colorbarLabelX[p.col],p.ly,p.label+'  (m s','-1',')');
});
phasePanels.forEach(function(p){
  const g = addGroup(figure,'phase-panel');
  drawPhase(g,p.col,p.row,p.bands,p.lines);
  drawAxes(g,p.col,p.row);
  drawColorbar(g,p.col,p.row,-6,6,phaseTicks);
  rotatedLabel(g,'y-axis-title',altitudeLabelX[p.col],p.ay,'Altitude  (km)');
  rotatedLabel(g,'colorbar-title',colorbarLabelX[p.col],p.ly,p.label);
});
</script>
</body>
</html>
